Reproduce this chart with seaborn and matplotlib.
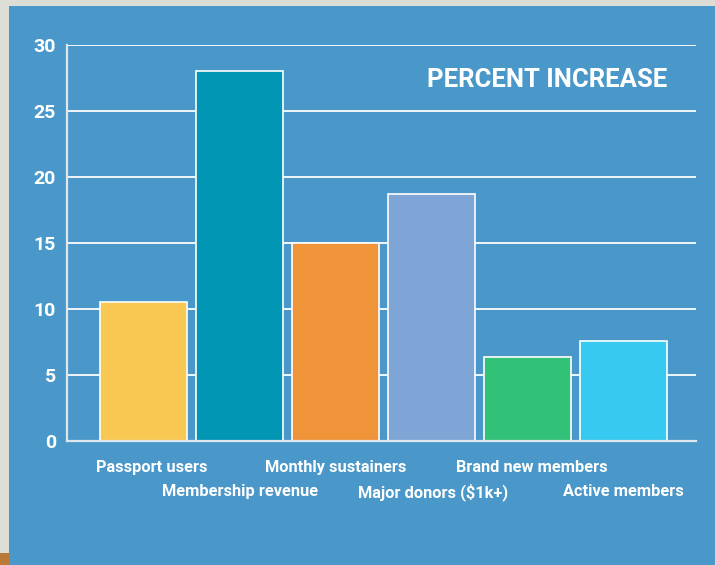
import matplotlib
matplotlib.use("Agg")
import matplotlib.pyplot as plt
import seaborn as sns
import pandas as pd
from matplotlib.patches import Rectangle

categories = ["Passport users", "Membership revenue", "Monthly sustainers",
              "Major donors ($1k+)", "Brand new members", "Active members"]
values = [10.5, 28.0, 15.0, 18.7, 6.4, 7.6]
colors = ["#f8c853", "#0096b4", "#f0943a", "#7ea5d6", "#31c277", "#38c9f0"]
yticks = [0, 5, 10, 15, 20, 25, 30]
title = "PERCENT INCREASE"

sns.set_theme(style="white")
plt.rcParams['font.family'] = ['Roboto', 'DejaVu Sans']

BLUE = "#4a98c9"
fig = plt.figure(figsize=(7.15, 5.65), dpi=100)
fig.patch.set_facecolor("#dcddd5")
fig.add_artist(Rectangle((9/715, 0), 1 - 9/715, 1 - 6/565, transform=fig.transFigure,
                         facecolor=BLUE, edgecolor="none", zorder=0))
fig.add_artist(Rectangle((0, 0), 9/715, 12/565, transform=fig.transFigure,
                         facecolor="#b97a38", edgecolor="none", zorder=0))

ax = fig.add_axes([67/715, 124/565, (696-67)/715, (441-45)/565])
ax.set_facecolor("none")

df = pd.DataFrame({"cat": categories, "val": values})
sns.barplot(data=df, x="cat", y="val", hue="cat", palette=colors, legend=False,
            width=0.906, edgecolor="white", linewidth=1.2, saturation=1, ax=ax, zorder=3)

ax.set_ylim(0, 30)
ax.set_xlim(-0.8, 5.755)
ax.set_yticks(yticks)
ax.set_yticklabels([str(t) for t in yticks], color="white", fontsize=14, fontweight="bold")
ax.tick_params(axis="y", length=0, pad=8)
ax.set_xticks([])
ax.set_xlabel("")
ax.set_ylabel("")
for y in yticks[1:]:
    ax.axhline(y, color="white", linewidth=1.3, zorder=1)
for s in ["top", "right"]:
    ax.spines[s].set_visible(False)
ax.spines["left"].set_color("#dde6ee")
ax.spines["left"].set_linewidth(1.6)
ax.spines["bottom"].set_color("#dde6ee")
ax.spines["bottom"].set_linewidth(1.6)
ax.spines["left"].set_zorder(4)
ax.spines["bottom"].set_zorder(4)

shifts = [0.08, 0.0, 0.0, 0.02, 0.04, 0.0]
for i, c in enumerate(categories):
    yoff = -0.066 if i % 2 == 0 else -0.128
    ax.text(i + shifts[i], yoff, c, transform=ax.get_xaxis_transform(),
            ha="center", va="center", color="white", fontsize=11.8, fontweight="bold")

ax.text(0.955, 0.912, title, transform=ax.transAxes, ha="right", va="center",
        color="white", fontsize=18.5, fontweight="bold")

fig.savefig("out.png", dpi=100, facecolor=fig.get_facecolor())
